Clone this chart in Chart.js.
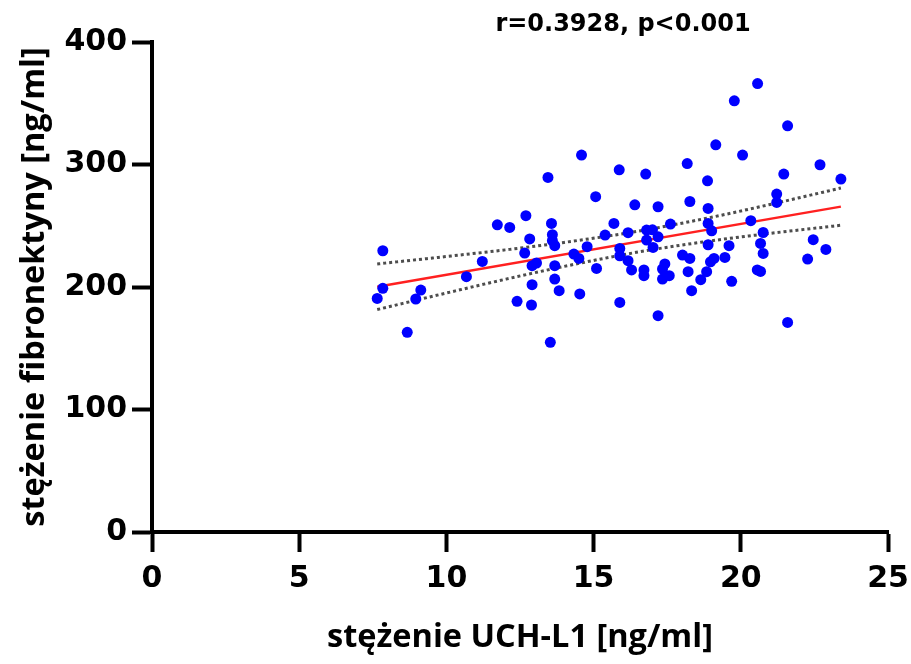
<!DOCTYPE html>
<html>
<head>
<meta charset="utf-8">
<script src="https://cdn.jsdelivr.net/npm/chart.js@4.4.1/dist/chart.umd.min.js"></script>
<style>
    html, body { margin: 0; padding: 0; background: #fff; }
    #wrap { width: 911px; height: 664px; }
</style>
</head>
<body>
<div id="wrap"><canvas id="chart" width="911" height="664"></canvas></div>
<script>
// stężenie UCH-L1 [ng/ml] (x) and stężenie fibronektyny [ng/ml] (y)
const uchL1 = [
    7.65, 7.84, 7.84, 8.67, 8.96, 9.13, 10.68, 11.22, 11.73, 12.15,
    12.40, 12.66, 12.70, 12.83, 12.89, 12.91, 12.91, 13.06, 13.45, 13.53,
    13.57, 13.60, 13.60, 13.68, 13.68, 13.68, 13.83, 14.33, 14.50, 14.53,
    14.59, 14.78, 15.07, 15.10, 15.39, 15.69, 15.87, 15.89, 15.89, 15.89,
    16.17, 16.17, 16.29, 16.40, 16.71, 16.71, 16.77, 16.80, 16.80, 17.00,
    17.02, 17.19, 17.19, 17.19, 17.34, 17.34, 17.42, 17.57, 17.61, 18.02,
    18.18, 18.21, 18.27, 18.27, 18.33, 18.64, 18.84, 18.87, 18.89, 18.89,
    18.89, 18.97, 19.01, 19.09, 19.15, 19.46, 19.60, 19.69, 19.78, 20.06,
    20.34, 20.56, 20.57, 20.67, 20.67, 20.76, 20.76, 21.22, 21.22, 21.46,
    21.59, 21.59, 22.27, 22.46, 22.69, 22.89, 23.40
];
const fibronektyna = [
    190.7, 198.9, 229.6, 163.0, 190.2, 197.5, 208.4, 220.9, 250.8, 248.6,
    188.3, 227.7, 258.2, 239.2, 185.3, 217.4, 201.9, 219.6, 289.4, 154.8,
    251.9, 242.7, 237.8, 233.7, 217.4, 206.5, 197.0, 226.9, 223.3, 194.3,
    307.7, 232.9, 273.7, 215.2, 242.4, 251.9, 295.7, 231.5, 225.5, 187.4,
    244.3, 221.5, 213.9, 267.1, 213.9, 209.2, 292.2, 246.5, 238.3, 246.7,
    232.3, 265.5, 241.0, 176.6, 214.7, 206.5, 218.8, 209.2, 251.4, 226.1,
    300.8, 212.5, 269.8, 223.3, 197.0, 206.0, 212.5, 286.7, 264.1, 251.9,
    234.5, 220.6, 245.9, 223.3, 316.1, 224.1, 233.7, 204.6, 352.0, 307.7,
    254.1, 213.9, 366.1, 235.6, 212.7, 244.5, 227.4, 275.9, 269.0, 292.2,
    331.6, 171.1, 222.8, 238.6, 299.8, 230.7, 288.1
];

// regression line end points
const fitX = [7.65, 23.4];
const fitY = [200.2, 265.6];

// 95% confidence band (dotted)
const bandX = [7.65, 10, 12, 14, 16.6, 19, 21, 23.4];
const bandUpper = [218.8, 224.9, 230.3, 236.4, 245.9, 256.9, 267.4, 280.8];
const bandLower = [181.6, 195.1, 206.3, 216.8, 228.9, 237.7, 243.8, 250.4];

const xTicks = [0, 5, 10, 15, 20, 25];
const yTicks = [0, 100, 200, 300, 400];
const statsLabel = 'r=0.3928, p<0.001';

function toPoints(xs, ys) {
    return xs.map((x, i) => ({ x: x, y: ys[i] }));
}

// draws the r / p text above the plot
const statsText = {
    id: 'statsText',
    afterDraw(chart) {
        const ctx = chart.ctx;
        ctx.save();
        ctx.font = 'bold 24px "DejaVu Sans"';
        ctx.fillStyle = '#000';
        ctx.textAlign = 'center';
        ctx.textBaseline = 'middle';
        ctx.fillText(statsLabel, 623, 25);
        ctx.restore();
    }
};

const tickFont = { family: '"DejaVu Sans"', size: 30, weight: 'bold' };
const titleFont = { family: '"Open Sans"', size: 32.5, weight: 'bold', lineHeight: 1.2 };

new Chart(document.getElementById('chart').getContext('2d'), {
    type: 'scatter',
    data: {
        datasets: [
            {
                label: 'pomiary',
                data: toPoints(uchL1, fibronektyna),
                backgroundColor: '#0000ff',
                borderWidth: 0,
                pointRadius: 5.5,
                order: 0
            },
            {
                label: 'regresja',
                type: 'line',
                data: toPoints(fitX, fitY),
                borderColor: '#ff2020',
                borderWidth: 2.5,
                pointRadius: 0,
                order: 1
            },
            {
                label: 'górny',
                type: 'line',
                data: toPoints(bandX, bandUpper),
                borderColor: '#4d4d4d',
                borderWidth: 3,
                borderDash: [3, 3],
                cubicInterpolationMode: 'monotone',
                pointRadius: 0,
                order: 2
            },
            {
                label: 'dolny',
                type: 'line',
                data: toPoints(bandX, bandLower),
                borderColor: '#4d4d4d',
                borderWidth: 3,
                borderDash: [3, 3],
                cubicInterpolationMode: 'monotone',
                pointRadius: 0,
                order: 2
            }
        ]
    },
    options: {
        responsive: false,
        animation: false,
        devicePixelRatio: 1,
        layout: { padding: { top: 42, right: 23, left: 0, bottom: 0 } },
        plugins: {
            legend: { display: false },
            tooltip: { enabled: false }
        },
        scales: {
            x: {
                type: 'linear',
                min: 0,
                max: 25,
                afterFit: s => {
                    s.height = 132;
                    s.paddingLeft = 0;
                    s.paddingRight = 0;
                },
                afterBuildTicks: s => { s.ticks = xTicks.map(v => ({ value: v })); },
                ticks: { font: tickFont, color: '#000', padding: 9 },
                grid: { drawOnChartArea: false, drawTicks: true, tickLength: 20, tickWidth: 4, tickColor: '#000' },
                border: { display: true, color: '#000', width: 4 },
                title: {
                    display: true,
                    text: 'stężenie UCH-L1 [ng/ml]',
                    font: titleFont,
                    color: '#000',
                    padding: { top: 0, bottom: 7 }
                }
            },
            y: {
                type: 'linear',
                min: 0,
                max: 400,
                afterFit: s => {
                    s.width = 152;
                    s.paddingTop = 0;
                    s.paddingBottom = 0;
                },
                afterBuildTicks: s => { s.ticks = yTicks.map(v => ({ value: v })); },
                ticks: { font: tickFont, color: '#000', padding: 5 },
                grid: { drawOnChartArea: false, drawTicks: true, tickLength: 20, tickWidth: 4, tickColor: '#000' },
                border: { display: true, color: '#000', width: 4 },
                title: {
                    display: true,
                    text: 'stężenie fibronektyny [ng/ml]',
                    font: titleFont,
                    color: '#000',
                    padding: { top: 15, bottom: 0 }
                }
            }
        }
    },
    plugins: [statsText]
});
</script>
</body>
</html>
